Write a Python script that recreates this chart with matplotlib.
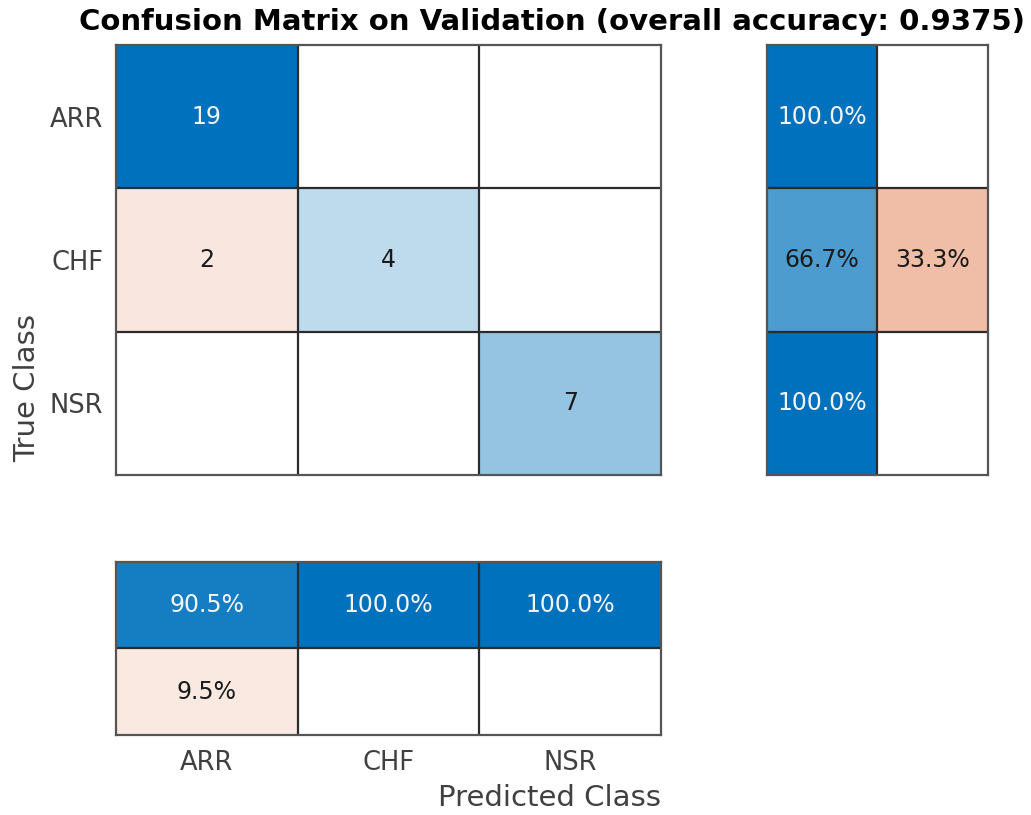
import numpy as np
import matplotlib
matplotlib.use("Agg")
import matplotlib.pyplot as plt

# class names and validation counts (rows = true, cols = predicted)
classes = ["ARR", "CHF", "NSR"]
counts = np.array([
    [19, 0, 0],
    [2, 4, 0],
    [0, 0, 7],
])

# row / column normalised summaries in percent
row_pct = counts / counts.sum(axis=1, keepdims=True) * 100
col_pct = counts / counts.sum(axis=0, keepdims=True) * 100
row_summary = np.column_stack([np.diag(row_pct), 100 - np.diag(row_pct)])
col_summary = np.vstack([np.diag(col_pct), 100 - np.diag(col_pct)])
accuracy = np.trace(counts) / counts.sum()

BLUE = np.array([0.0, 0.447, 0.741])
RED = np.array([0.851, 0.325, 0.098])
WHITE = np.ones(3)
EDGE = "#2b2b2b"
TICK = "#404040"


def shade(frac, good):
    base = BLUE if good else RED
    f = frac ** 0.88
    return WHITE * (1 - f) + base * f


def draw_cells(ax, fracs, good, labels):
    nr, nc = fracs.shape
    img = np.ones((nr, nc, 3))
    for i in range(nr):
        for j in range(nc):
            if fracs[i, j] > 0:
                img[i, j] = shade(fracs[i, j], good[i, j])
    ax.imshow(img, aspect="auto", extent=(-0.5, nc - 0.5, nr - 0.5, -0.5),
              interpolation="nearest")
    for i in range(nr):
        for j in range(nc):
            if fracs[i, j] > 0:
                col = "#f4f4f4" if fracs[i, j] > 0.75 else "#1a1a1a"
                ax.text(j, i, labels[i][j], ha="center", va="center",
                        fontsize=17, color=col)
    for k in range(1, nc):
        ax.axvline(k - 0.5, color=EDGE, lw=1.6)
    for k in range(1, nr):
        ax.axhline(k - 0.5, color=EDGE, lw=1.6)
    for s in ax.spines.values():
        s.set_color("#555555")
        s.set_linewidth(1.6)
    ax.set_xticks([])
    ax.set_yticks([])


fig = plt.figure(figsize=(10.31, 8.15), dpi=100)

# main confusion matrix
ax_main = fig.add_axes([0.1125, 0.4172, 0.5286, 0.5276])
main_frac = counts / counts.max()
main_good = np.eye(3, dtype=bool)
main_labels = [[str(v) for v in r] for r in counts]
draw_cells(ax_main, main_frac, main_good, main_labels)
ax_main.set_yticks(range(3))
ax_main.set_yticklabels(classes, fontsize=18.5, color=TICK)
ax_main.tick_params(axis="y", length=0, pad=9)

# row summary (per true class)
ax_row = fig.add_axes([0.7439, 0.4172, 0.2144, 0.5276])
row_good = np.array([[True, False]] * 3)
row_labels = [[f"{v:.1f}%" for v in r] for r in row_summary]
draw_cells(ax_row, row_summary / 100, row_good, row_labels)

# column summary (per predicted class)
ax_col = fig.add_axes([0.1125, 0.0982, 0.5286, 0.2123])
col_good = np.array([[True] * 3, [False] * 3])
col_labels = [[f"{v:.1f}%" for v in r] for r in col_summary]
draw_cells(ax_col, col_summary / 100, col_good, col_labels)
ax_col.set_xticks(range(3))
ax_col.set_xticklabels(classes, fontsize=18.5, color=TICK)
ax_col.tick_params(axis="x", length=0, pad=11)

fig.text(0.535, 0.973,
         f"Confusion Matrix on Validation (overall accuracy: {accuracy:.4f})",
         ha="center", va="center", fontsize=21, fontweight="bold")
fig.text(0.026, 0.524, "True Class", rotation=90, ha="center", va="center",
         fontsize=21, color=TICK)
fig.text(0.641, 0.021, "Predicted Class", ha="right", va="center",
         fontsize=21, color=TICK)

fig.savefig("out.png", dpi=100)
